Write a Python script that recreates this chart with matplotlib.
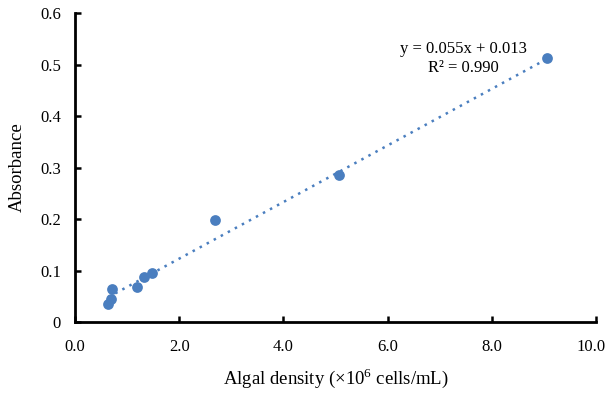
import numpy as np
import matplotlib
matplotlib.use('Agg')
import matplotlib.pyplot as plt
import matplotlib.transforms as mtransforms

# Algal density (x10^6 cells/mL) and absorbance
density = [0.64, 0.685, 0.72, 1.20, 1.32, 1.47, 2.69, 5.07, 9.05]
absorbance = [0.034, 0.044, 0.064, 0.067, 0.087, 0.095, 0.198, 0.285, 0.512]
slope, intercept = 0.055, 0.013
x_ticks = [0.0, 2.0, 4.0, 6.0, 8.0, 10.0]
y_ticks = [0, 0.1, 0.2, 0.3, 0.4, 0.5, 0.6]

plt.rcParams['font.family'] = ['Liberation Serif', 'DejaVu Serif']
plt.rcParams['mathtext.fontset'] = 'custom'
plt.rcParams['mathtext.rm'] = 'Liberation Serif'

blue = '#4a7ebf'
fig = plt.figure(figsize=(6.09, 3.98), dpi=100)
ax = fig.add_axes([0.123, 0.191, 0.856, 0.776])

ax.scatter(density, absorbance, s=60, color=blue, zorder=3, linewidths=0)
xs = np.array([min(density), max(density)])
ax.plot(xs, slope * xs + intercept, linestyle=(0, (1, 2.2)), color=blue, linewidth=1.8)

ax.set_xlim(0, 10)
ax.set_ylim(0, 0.6)
ax.set_xticks(x_ticks)
ax.set_xticklabels([f'{v:.1f}' for v in x_ticks])
ax.set_yticks(y_ticks)
ax.set_yticklabels(['0', '0.1', '0.2', '0.3', '0.4', '0.5', '0.6'])
ax.tick_params(direction='in', length=4, width=1.8, labelsize=12, colors='black')
ax.tick_params(axis='x', pad=12)
ax.tick_params(axis='y', pad=10)

# keep the last x label inside the figure, as the original does
last = ax.get_xticklabels()[-1]
last.set_transform(last.get_transform() + mtransforms.ScaledTranslation(-0.05, 0, fig.dpi_scale_trans))

for side in ['top', 'right']:
    ax.spines[side].set_visible(False)
for side in ['left', 'bottom']:
    ax.spines[side].set_linewidth(2)

ax.set_xlabel(r'Algal density ($\times$10$^{6}$ cells/mL)', fontsize=13.5, labelpad=8)
ax.set_ylabel('Absorbance', fontsize=13.5, labelpad=10)

ax.text(7.46, 0.530, f'y = {slope:.3f}x + {intercept:.3f}', fontsize=12, ha='center', va='center')
ax.text(7.46, 0.493, 'R\u00b2 = 0.990', fontsize=12, ha='center', va='center')

fig.savefig('out.png', dpi=100)
